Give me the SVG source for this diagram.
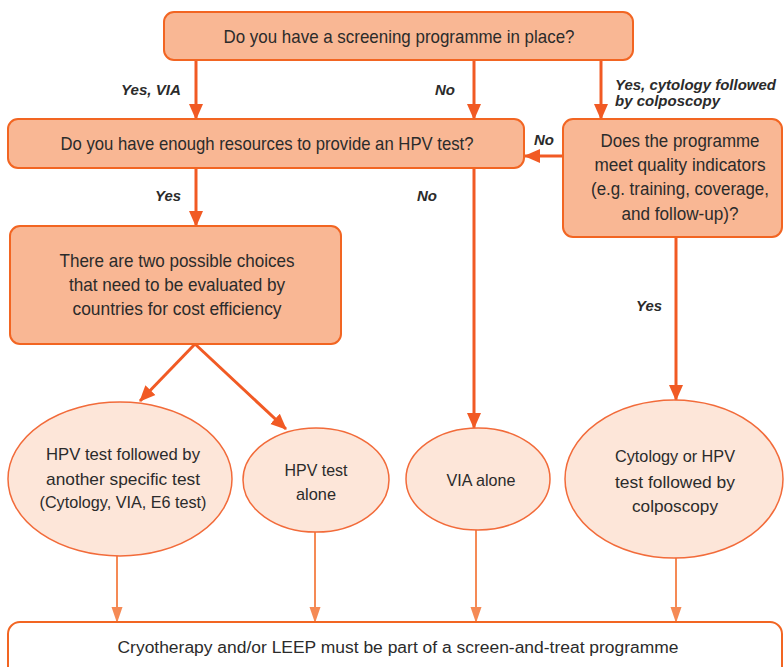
<svg xmlns="http://www.w3.org/2000/svg" width="784" height="667" viewBox="0 0 784 667">
<defs>
<marker id="ah" markerUnits="userSpaceOnUse" markerWidth="16" markerHeight="16" viewBox="0 0 16 16" refX="15" refY="8" orient="auto">
<path d="M0,1 L16,8 L0,15 z" fill="#F15A24"/>
</marker>
<marker id="ah2" markerUnits="userSpaceOnUse" markerWidth="16" markerHeight="14" viewBox="0 0 16 14" refX="15" refY="7" orient="auto">
<path d="M0,1.5 L16,7 L0,12.5 z" fill="#F58A55"/>
</marker>
<style>
.box{fill:#F9B794;stroke:#F26522;stroke-width:2}
.ell{fill:#FDE6D9;stroke:#F26B3A;stroke-width:1.5}
.end{fill:#FFFFFF;stroke:#F26522;stroke-width:2}
.t{font-family:"Liberation Sans",Arial,sans-serif;fill:#2B2B2B;text-anchor:middle}
.lb{font-family:"Liberation Sans",Arial,sans-serif;font-style:italic;font-weight:bold;font-size:14.5px;fill:#2B2B2B}
.a{stroke:#F15A24;stroke-width:3;fill:none;marker-end:url(#ah)}
.b{stroke:#F58A55;stroke-width:2;fill:none;marker-end:url(#ah2)}
</style>
</defs>
<g id="connectors">
<line class="a" x1="196" y1="60" x2="196" y2="119"/>
<line class="a" x1="474" y1="60" x2="474" y2="119"/>
<line class="a" x1="601" y1="60" x2="601" y2="119"/>
<line class="a" x1="563" y1="156" x2="525" y2="156"/>
<line class="a" x1="196" y1="168" x2="196" y2="226"/>
<line class="a" x1="474" y1="168" x2="474" y2="428"/>
<line class="a" x1="676" y1="237" x2="676" y2="400"/>
<line class="a" x1="195" y1="344" x2="140" y2="401"/>
<line class="a" x1="195" y1="344" x2="286" y2="429"/>
<line class="b" x1="117" y1="555" x2="117" y2="622"/>
<line class="b" x1="315" y1="532" x2="315" y2="622"/>
<line class="b" x1="476" y1="530" x2="476" y2="622"/>
<line class="b" x1="676" y1="558" x2="676" y2="622"/>
<text class="lb" x="121" y="95" textLength="60" lengthAdjust="spacingAndGlyphs">Yes, VIA</text>
<text class="lb" x="435" y="95" textLength="20" lengthAdjust="spacingAndGlyphs">No</text>
<text class="lb" x="615" y="90" textLength="161" lengthAdjust="spacingAndGlyphs">Yes, cytology followed</text>
<text class="lb" x="615" y="106" textLength="105" lengthAdjust="spacingAndGlyphs">by colposcopy</text>
<text class="lb" x="534" y="145" textLength="20" lengthAdjust="spacingAndGlyphs">No</text>
<text class="lb" x="155" y="201" textLength="26" lengthAdjust="spacingAndGlyphs">Yes</text>
<text class="lb" x="417" y="201" textLength="20" lengthAdjust="spacingAndGlyphs">No</text>
<text class="lb" x="636" y="311" textLength="26" lengthAdjust="spacingAndGlyphs">Yes</text>
</g>
<g id="n1">
<rect class="box" x="164" y="12" width="469" height="48" rx="10"/>
<text class="t" x="399" y="43" font-size="19" textLength="351" lengthAdjust="spacingAndGlyphs">Do you have a screening programme in place?</text>
</g>
<g id="n2">
<rect class="box" x="8" y="119" width="516" height="49" rx="10"/>
<text class="t" x="267" y="150" font-size="19" textLength="413" lengthAdjust="spacingAndGlyphs">Do you have enough resources to provide an HPV test?</text>
</g>
<g id="n3">
<rect class="box" x="563" y="119" width="219" height="118" rx="10"/>
<text class="t" x="680" y="147" font-size="17.5" textLength="159" lengthAdjust="spacingAndGlyphs">Does the programme</text>
<text class="t" x="680" y="171" font-size="17.5" textLength="171" lengthAdjust="spacingAndGlyphs">meet quality indicators</text>
<text class="t" x="680" y="195" font-size="17.5" textLength="178" lengthAdjust="spacingAndGlyphs">(e.g. training, coverage,</text>
<text class="t" x="680" y="220" font-size="17.5" textLength="117" lengthAdjust="spacingAndGlyphs">and follow-up)?</text>
</g>
<g id="n4">
<rect class="box" x="10" y="226" width="331" height="118" rx="10"/>
<text class="t" x="177" y="267" font-size="18.5" textLength="235" lengthAdjust="spacingAndGlyphs">There are two possible choices</text>
<text class="t" x="177" y="291" font-size="18.5" textLength="216" lengthAdjust="spacingAndGlyphs">that need to be evaluated by</text>
<text class="t" x="177" y="315" font-size="18.5" textLength="209" lengthAdjust="spacingAndGlyphs">countries for cost efficiency</text>
</g>
<g id="n5">
<ellipse class="ell" cx="120" cy="479" rx="112" ry="77"/>
<text class="t" x="123" y="460" font-size="17" textLength="154" lengthAdjust="spacingAndGlyphs">HPV test followed by</text>
<text class="t" x="123" y="485" font-size="17" textLength="154" lengthAdjust="spacingAndGlyphs">another specific test</text>
<text class="t" x="123" y="508" font-size="17" textLength="167" lengthAdjust="spacingAndGlyphs">(Cytology, VIA, E6 test)</text>
</g>
<g id="n6">
<ellipse class="ell" cx="316" cy="480" rx="73" ry="52"/>
<text class="t" x="316" y="476" font-size="17" textLength="63" lengthAdjust="spacingAndGlyphs">HPV test</text>
<text class="t" x="316" y="500" font-size="17" textLength="40" lengthAdjust="spacingAndGlyphs">alone</text>
</g>
<g id="n7">
<ellipse class="ell" cx="478" cy="479" rx="72" ry="51"/>
<text class="t" x="481" y="486" font-size="17" textLength="69" lengthAdjust="spacingAndGlyphs">VIA alone</text>
</g>
<g id="n8">
<ellipse class="ell" cx="674" cy="479" rx="109" ry="79"/>
<text class="t" x="675" y="462" font-size="17" textLength="120" lengthAdjust="spacingAndGlyphs">Cytology or HPV</text>
<text class="t" x="675" y="488" font-size="17" textLength="120" lengthAdjust="spacingAndGlyphs">test followed by</text>
<text class="t" x="675" y="512" font-size="17" textLength="86" lengthAdjust="spacingAndGlyphs">colposcopy</text>
</g>
<g id="n9">
<rect class="end" x="8" y="622" width="774" height="60" rx="12"/>
<text class="t" x="398" y="653" font-size="16" textLength="561" lengthAdjust="spacingAndGlyphs">Cryotherapy and/or LEEP must be part of a screen-and-treat programme</text>
</g>
</svg>
